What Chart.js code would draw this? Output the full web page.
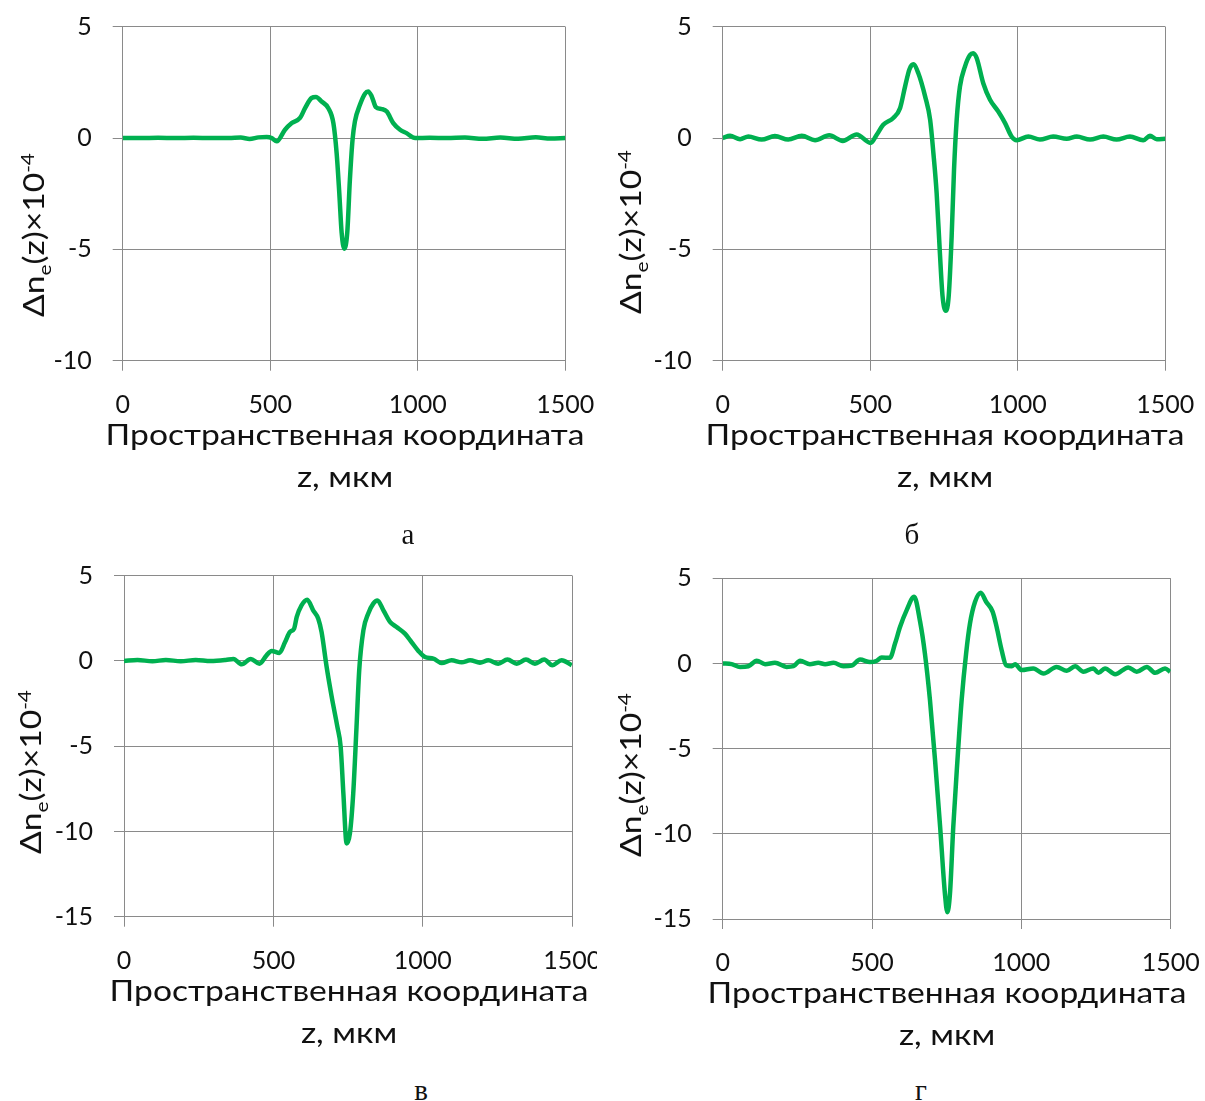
<!DOCTYPE html>
<html>
<head>
<meta charset="utf-8">
<script src="https://cdn.jsdelivr.net/npm/chart.js@4/dist/chart.umd.min.js"></script>
<style>
  body { margin: 0; background: #fff; width: 1205px; height: 1101px; position: relative; overflow: hidden; font-family: Lato, 'Open Sans', sans-serif; color: #111; }
  canvas { position: absolute; }
  .ytitle { position: absolute; transform: translate(-50%, -50%) rotate(-90deg) scaleX(1.2); white-space: nowrap; font-size: 28px; line-height: 1; }
  .ytitle sub, .ytitle sup { font-size: 62%; line-height: 0; }
  .xtitle { position: absolute; transform: translateX(-50%) scaleX(1.2); white-space: nowrap; text-align: center; font-size: 28px; line-height: 42px; }
  .caption { position: absolute; transform: translateX(-50%); font-family: 'Liberation Serif', 'Times New Roman', serif; font-size: 29px; line-height: 1; }
</style>
</head>
<body>
<canvas id="chart-a" width="600" height="425" style="left:0;top:0"></canvas>
<canvas id="chart-b" width="605" height="425" style="left:600px;top:0"></canvas>
<canvas id="chart-c" width="597" height="440" style="left:0;top:540px"></canvas>
<canvas id="chart-d" width="605" height="440" style="left:600px;top:540px"></canvas>

<div class="ytitle" style="left:33px;top:235px">Δn<sub>e</sub>(z)×10<sup>-4</sup></div>
<div class="ytitle" style="left:630px;top:232px">Δn<sub>e</sub>(z)×10<sup>-4</sup></div>
<div class="ytitle" style="left:30px;top:772px">Δn<sub>e</sub>(z)×10<sup>-4</sup></div>
<div class="ytitle" style="left:630px;top:775px">Δn<sub>e</sub>(z)×10<sup>-4</sup></div>

<div class="xtitle" style="left:345px;top:413px">Пространственная координата<br>z, мкм</div>
<div class="xtitle" style="left:945px;top:413px">Пространственная координата<br>z, мкм</div>
<div class="xtitle" style="left:349px;top:969px">Пространственная координата<br>z, мкм</div>
<div class="xtitle" style="left:947px;top:971px">Пространственная координата<br>z, мкм</div>

<div class="caption" style="left:408px;top:520px">а</div>
<div class="caption" style="left:421px;top:1076px">в</div>
<div class="caption" style="left:912px;top:520px">б</div>
<div class="caption" style="left:921px;top:1076px">г</div>

<script>
// оси
const zTicks = [0, 500, 1000, 1500];
const nTicksTop = [-10, -5, 0, 5];
const nTicksBottom = [-15, -10, -5, 0, 5];

// а
const zA = [0, 60, 120, 180, 240, 300, 360, 400, 430, 460, 488, 505, 522, 550, 573, 601, 618, 640, 655, 674, 697, 714, 725, 734, 742, 751, 761, 770, 779, 787, 804, 821, 832, 844, 858, 878, 895, 917, 940, 962, 991, 1040, 1100, 1160, 1220, 1280, 1340, 1400, 1450, 1500];
const nA = [0, 0, 0.01, 0, 0.01, 0, 0, 0.02, -0.04, 0.03, 0.05, 0, -0.15, 0.37, 0.67, 0.9, 1.34, 1.8, 1.84, 1.64, 1.34, 0.67, -0.67, -2.46, -4.25, -4.97, -4.25, -1.87, -0.07, 0.75, 1.49, 1.99, 2.09, 1.87, 1.39, 1.3, 1.19, 0.67, 0.37, 0.22, 0, 0.01, 0, 0.02, -0.03, 0.02, -0.03, 0.03, -0.02, 0];

// б
const zB = [0, 25, 59, 87, 132, 177, 222, 268, 313, 361, 407, 454, 501, 522, 544, 578, 601, 618, 633, 646, 663, 686, 703, 714, 725, 736, 745, 756, 766, 776, 784, 793, 804, 821, 838, 849, 861, 883, 906, 934, 957, 979, 996, 1036, 1075, 1120, 1166, 1200, 1245, 1290, 1335, 1380, 1425, 1448, 1471, 1500];
const nB = [0, 0.1, -0.05, 0.07, -0.07, 0.09, -0.07, 0.1, -0.1, 0.12, -0.13, 0.16, -0.22, 0.15, 0.6, 0.9, 1.34, 2.31, 3.09, 3.31, 2.91, 1.87, 0.82, -0.67, -2.46, -5.15, -7.09, -7.76, -7.09, -4.4, -1.42, 0.82, 2.31, 3.21, 3.73, 3.81, 3.58, 2.46, 1.72, 1.19, 0.67, 0.07, -0.1, 0.07, -0.07, 0.07, -0.03, 0.07, -0.07, 0.07, -0.07, 0.07, -0.1, 0.1, -0.05, -0.03];

// в
const zC = [0, 45, 95, 140, 190, 240, 290, 340, 366, 394, 424, 453, 477, 494, 520, 539, 555, 569, 578, 594, 613, 633, 650, 661, 678, 695, 714, 725, 734, 745, 756, 767, 778, 787, 801, 817, 834, 848, 868, 890, 912, 940, 962, 985, 1007, 1035, 1063, 1096, 1130, 1158, 1191, 1219, 1252, 1283, 1314, 1345, 1375, 1406, 1433, 1464, 1498];
const nC = [0, 0.06, -0.02, 0.06, -0.02, 0.06, 0, 0.06, 0.12, -0.2, 0.12, -0.16, 0.33, 0.59, 0.47, 1.11, 1.7, 1.89, 2.58, 3.26, 3.59, 2.97, 2.48, 1.7, -0.35, -2.11, -3.87, -5.04, -7.77, -10.7, -10.1, -7.77, -3.87, -0.55, 1.8, 2.77, 3.36, 3.55, 2.97, 2.29, 1.99, 1.6, 1.11, 0.59, 0.23, 0.14, -0.12, 0.04, -0.08, 0.04, -0.1, 0.04, -0.16, 0.08, -0.16, 0.08, -0.16, 0.08, -0.25, 0.04, -0.25];

// г
const zD = [0, 30, 58, 86, 114, 142, 175, 214, 237, 259, 292, 320, 343, 371, 404, 432, 460, 493, 516, 532, 560, 577, 594, 616, 641, 661, 677, 694, 711, 728, 744, 752, 761, 772, 786, 800, 815, 828, 845, 864, 882, 904, 917, 934, 949, 968, 979, 1001, 1040, 1074, 1118, 1152, 1180, 1208, 1241, 1258, 1280, 1314, 1358, 1386, 1420, 1448, 1481, 1498];
const nD = [0, -0.04, -0.2, -0.16, 0.16, -0.04, 0.04, -0.2, -0.16, 0.16, -0.04, 0.04, -0.04, 0.04, -0.16, -0.12, 0.23, 0.08, 0.16, 0.35, 0.33, 1.17, 2.15, 3.13, 3.91, 2.45, 0.59, -2.15, -5.68, -9.59, -13.5, -14.6, -13.5, -9.59, -5.68, -2.15, 0.59, 2.35, 3.62, 4.15, 3.62, 3.03, 2.15, 0.78, -0.1, -0.16, -0.04, -0.39, -0.29, -0.59, -0.2, -0.43, -0.16, -0.49, -0.29, -0.55, -0.29, -0.63, -0.23, -0.49, -0.2, -0.55, -0.29, -0.49];

const lineColor = '#00b050';
const gridColor = '#8a8a8a';
const textColor = '#111';

Chart.defaults.font.family = "Lato, 'Open Sans', sans-serif";
Chart.defaults.color = textColor;

// без отступов под крайние подписи - область построения задаётся вручную
function noPadding(s) {
    s.paddingLeft = s.paddingRight = s.paddingTop = s.paddingBottom = 0;
}

// box: положение холста и области построения на странице
function drawPanel(id, zs, ns, nTicks, box) {
    const canvas = document.getElementById(id);
    const top = box.top, left = box.left;
    const H = canvas.height, W = canvas.width;

    new Chart(canvas, {
        type: 'line',
        data: {
            datasets: [{
                data: zs.map((z, i) => ({ x: z, y: ns[i] })),
                borderColor: lineColor,
                borderWidth: 4.5,
                pointRadius: 0,
                cubicInterpolationMode: 'monotone',
                fill: false
            }]
        },
        options: {
            responsive: false,
            animation: false,
            events: [],
            layout: {
                autoPadding: false,
                padding: { left: 0, top: box.plotTop - top, right: left + W - box.plotRight, bottom: 0 }
            },
            scales: {
                x: {
                    type: 'linear', min: zTicks[0], max: zTicks[zTicks.length - 1],
                    afterBuildTicks: s => { s.ticks = zTicks.map(v => ({ value: v })); },
                    afterFit: s => { s.height = top + H - box.plotBottom; noPadding(s); },
                    grid: { color: gridColor, lineWidth: 1, tickLength: 10 },
                    border: { color: gridColor, width: 1 },
                    ticks: { padding: 19, maxRotation: 0, autoSkip: false, font: { size: 25 }, color: textColor, callback: v => String(v) }
                },
                y: {
                    type: 'linear', min: nTicks[0], max: nTicks[nTicks.length - 1],
                    afterBuildTicks: s => { s.ticks = nTicks.map(v => ({ value: v })); },
                    afterFit: s => { s.width = box.plotLeft - left; noPadding(s); },
                    grid: { color: gridColor, lineWidth: 1, tickLength: 10 },
                    border: { color: gridColor, width: 1 },
                    ticks: { padding: 21, font: { size: 25 }, color: textColor, callback: v => String(v) }
                }
            },
            plugins: { legend: { display: false }, tooltip: { enabled: false } }
        }
    });
}

drawPanel('chart-a', zA, nA, nTicksTop, { left: 0, top: 0, plotLeft: 122.7, plotTop: 26.7, plotRight: 565.3, plotBottom: 360.7 });
drawPanel('chart-b', zB, nB, nTicksTop, { left: 600, top: 0, plotLeft: 722.7, plotTop: 26.7, plotRight: 1165.3, plotBottom: 360.7 });
drawPanel('chart-c', zC, nC, nTicksBottom, { left: 0, top: 540, plotLeft: 124, plotTop: 575.7, plotRight: 572.3, plotBottom: 916.7 });
drawPanel('chart-d', zD, nD, nTicksBottom, { left: 600, top: 540, plotLeft: 722.7, plotTop: 578.3, plotRight: 1170.7, plotBottom: 919 });
</script>
</body>
</html>
